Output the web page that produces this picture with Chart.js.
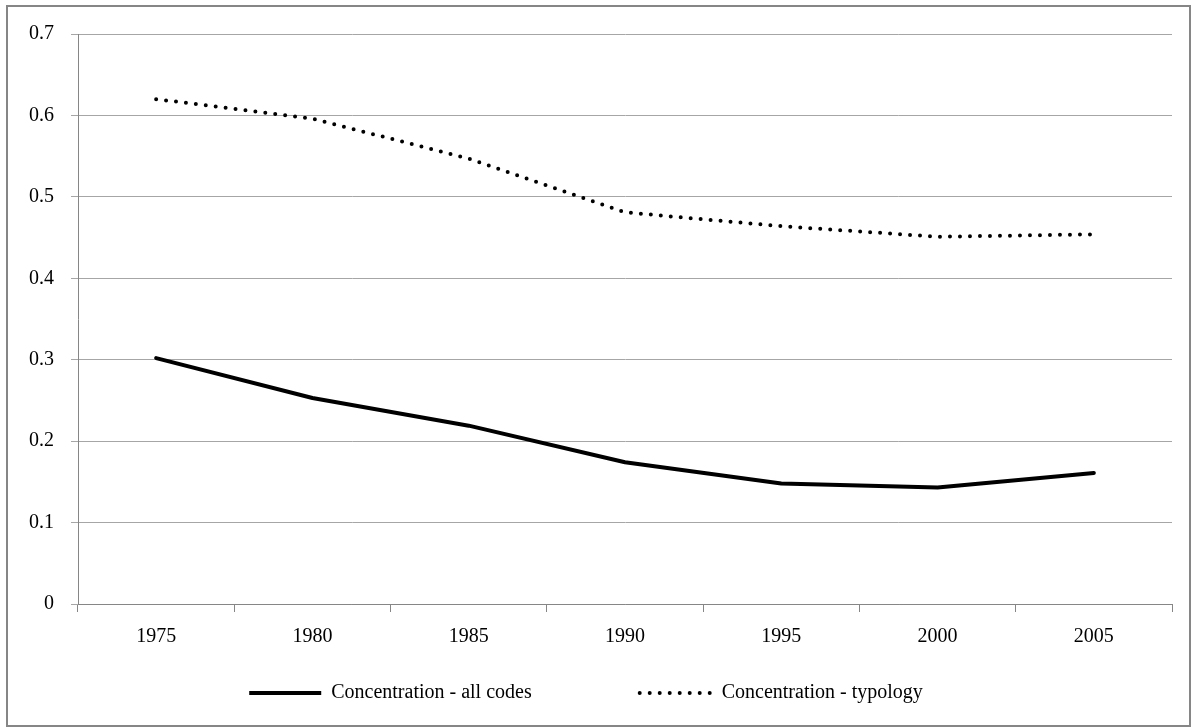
<!DOCTYPE html>
<html>
<head>
<meta charset="utf-8">
<script src="https://cdn.jsdelivr.net/npm/chart.js@4.4.1/dist/chart.umd.min.js"></script>
<style>
  html, body { margin: 0; padding: 0; background: #ffffff; }
  #wrap { width: 1197px; height: 727px; position: relative; }
  canvas { display: block; }
</style>
</head>
<body>
<div id="wrap"><canvas id="c" width="1197" height="727"></canvas></div>
<script>
const years = ['1975', '1980', '1985', '1990', '1995', '2000', '2005'];
const allCodes = [0.302, 0.253, 0.219, 0.174, 0.148, 0.143, 0.161];
const typology = [0.620, 0.596, 0.547, 0.481, 0.464, 0.451, 0.454];
const seriesNames = ['Concentration - all codes', 'Concentration - typology'];
const yTicks = [0, 0.1, 0.2, 0.3, 0.4, 0.5, 0.6, 0.7];

const FONT = "'Liberation Serif', 'DejaVu Serif', serif";
const AXIS = '#868686';
const GRID = '#a6a6a6';
const LEGEND_GAP = 108;

const frame = {
  id: 'frame',
  beforeDraw(chart) {
    const ctx = chart.ctx;
    ctx.save();
    ctx.fillStyle = '#ffffff';
    ctx.fillRect(0, 0, chart.width, chart.height);
    ctx.strokeStyle = AXIS;
    ctx.lineWidth = 2;
    ctx.strokeRect(7, 6, 1183, 720);
    ctx.restore();
  },
  afterLayout(chart) {
    const lg = chart.legend;
    if (lg) {
      lg.top = 683 - LEGEND_GAP;
      lg.bottom = chart.height;
      lg.height = lg.bottom - lg.top;
    }
  }
};

new Chart(document.getElementById('c'), {
  type: 'line',
  data: {
    labels: years,
    datasets: [
      {
        label: seriesNames[0],
        data: allCodes,
        borderColor: '#000000',
        backgroundColor: '#000000',
        borderWidth: 4,
        borderCapStyle: 'round',
        borderJoinStyle: 'round',
        pointRadius: 0,
        tension: 0,
        fill: false
      },
      {
        label: seriesNames[1],
        data: typology,
        borderColor: '#000000',
        backgroundColor: '#000000',
        borderWidth: 4,
        borderDash: [0, 10],
        borderCapStyle: 'round',
        pointRadius: 0,
        tension: 0,
        fill: false
      }
    ]
  },
  options: {
    responsive: false,
    animation: false,
    devicePixelRatio: 1,
    layout: { padding: { left: 0, top: 34, right: 25, bottom: 15 } },
    plugins: {
      tooltip: { enabled: false },
      legend: {
        position: 'bottom',
        maxHeight: 59,
        labels: {
          font: { family: FONT, size: 20 },
          color: '#000000',
          usePointStyle: true,
          pointStyleWidth: 72,
          boxWidth: 72,
          boxHeight: 20,
          padding: LEGEND_GAP,
          generateLabels(chart) {
            return chart.data.datasets.map((ds, i) => ({
              text: ds.label,
              fillStyle: '#000',
              strokeStyle: '#000',
              lineWidth: 4,
              lineDash: ds.borderDash || [],
              lineCap: i === 0 ? 'butt' : 'round',
              pointStyle: 'line',
              fontColor: '#000',
              datasetIndex: i,
              hidden: false
            }));
          }
        }
      }
    },
    scales: {
      x: {
        offset: true,
        grid: {
          offset: true,
          drawOnChartArea: false,
          drawTicks: true,
          tickLength: 8,
          color: AXIS,
          lineWidth: 1
        },
        border: { display: true, color: AXIS, width: 1 },
        ticks: {
          font: { family: FONT, size: 20 },
          color: '#000000',
          padding: 13,
          maxRotation: 0
        },
        afterFit(s) { s.height = 49; }
      },
      y: {
        min: 0,
        max: 0.7,
        afterBuildTicks(s) { s.ticks = yTicks.map(v => ({ value: v })); },
        grid: {
          color: GRID,
          lineWidth: 1,
          drawTicks: true,
          tickLength: 7
        },
        border: { display: true, color: AXIS, width: 1 },
        ticks: {
          font: { family: FONT, size: 20 },
          color: '#000000',
          padding: 17,
          callback: v => String(+Number(v).toFixed(1))
        },
        afterFit(s) { s.width = 78; }
      }
    }
  },
  plugins: [frame]
});
</script>
</body>
</html>
